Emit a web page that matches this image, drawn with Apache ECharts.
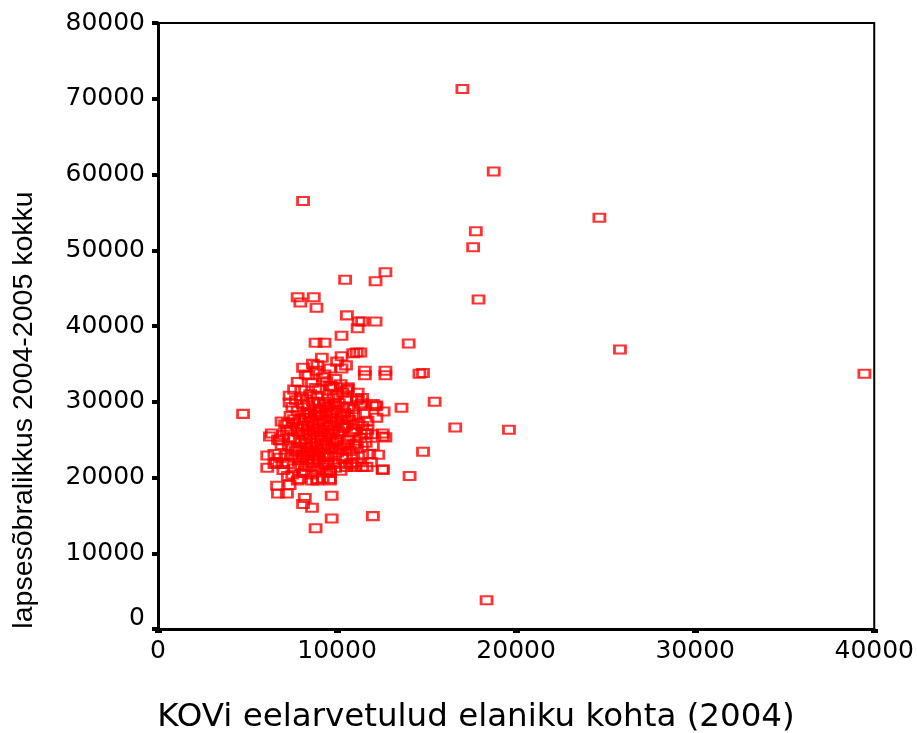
<!DOCTYPE html>
<html>
<head>
<meta charset="utf-8">
<script src="https://cdn.jsdelivr.net/npm/echarts@6/dist/echarts.min.js"></script>
<style>
  html, body { margin: 0; padding: 0; background: #fff; }
  #chart { width: 917px; height: 733px; }
</style>
</head>
<body>
<div id="chart"></div>
<script>
// [KOVi eelarvetulud elaniku kohta, lapsesõbralikkus kokku]
var outliers = [
  [17000, 71300], [18750, 60400], [8100, 56500], [24650, 54300], [17750, 52500],
  [17600, 50400], [17900, 43500], [25800, 36900], [39450, 33700], [16600, 26600],
  [19600, 26300], [18350, 3800], [4750, 28400], [15450, 30000], [14050, 20200],
  [14800, 23400], [14600, 33700], [14800, 33800], [14000, 37700], [13600, 29200]
];

var upperPoints = [
  [12700, 47100], [12150, 45900], [10450, 46100], [10550, 41400], [11200, 40600],
  [11400, 40600], [12150, 40600], [11150, 39700], [10250, 38700], [10250, 36000],
  [10500, 34800], [10900, 36400], [11300, 36500], [10250, 34400], [11550, 34100],
  [11550, 33500], [12700, 34100], [12700, 33500], [7800, 43800], [7950, 43100],
  [8700, 43800], [8850, 42400], [8800, 37800], [9300, 37800], [9150, 35800],
  [11100, 36500], [8650, 35000], [8900, 34800], [8100, 34500], [8250, 33600],
  [8850, 34100], [9200, 33200], [8600, 32500], [9300, 33600], [9900, 33000],
  [10000, 35300], [9600, 34400], [8400, 33500], [7800, 32600]
];

var edgePoints = [
  [12150, 29400], [11700, 27500], [12550, 25800], [12700, 25300], [11650, 25800],
  [7350, 30800], [8000, 31500], [9700, 32000], [10550, 31500], [11150, 31200],
  [12000, 29700], [7350, 29900], [9600, 32100], [11400, 30500], [6350, 25800],
  [6800, 24900], [7250, 27200], [11100, 24500], [6100, 22900], [6500, 23100],
  [6100, 21300], [6500, 21800], [6950, 21800], [7500, 22900], [6650, 18900],
  [7350, 19000], [6700, 17900], [7200, 17900], [8200, 17300], [8100, 16500],
  [8600, 16000], [9700, 17600], [9700, 14600], [8800, 13300], [12000, 14900],
  [11400, 21400], [11000, 21400], [10500, 21400], [9600, 20600], [9600, 19600],
  [8600, 19600], [8900, 19600], [8100, 20600], [12550, 21000], [10200, 32300],
  [10600, 31900], [10600, 31700], [11150, 30400], [11400, 29800], [12200, 29500],
  [10900, 27000], [10900, 26100], [11550, 25800], [11950, 25700], [12550, 25400],
  [10950, 24300], [11150, 22000], [10850, 21700], [12550, 21100], [11650, 21400],
  [6250, 25400], [6700, 25000], [7250, 21800], [7250, 20200], [7800, 19600],
  [9600, 19800], [8900, 19800]
];

var corePoints = [
  [7100, 27000], [7400, 26300], [7600, 25100], [7300, 24200], [7700, 23500],
  [7200, 23000], [7900, 22300], [7600, 21200], [7400, 28100], [7800, 28800],
  [7900, 27600], [8000, 26400], [8100, 25600], [8000, 24700], [8200, 23900],
  [8100, 23000], [8300, 22200], [8000, 21500], [8200, 20900], [8400, 29500],
  [8300, 30300], [8500, 28400], [8600, 27500], [8400, 26800], [8700, 26000],
  [8500, 25200], [8800, 24500], [8600, 23600], [8400, 22800], [8700, 21900],
  [8900, 21100], [8600, 20400], [8900, 30800], [9000, 29900], [9100, 29000],
  [8900, 28200], [9200, 27300], [9000, 26500], [9300, 25700], [9100, 24900],
  [8900, 24000], [9200, 23200], [9000, 22400], [9300, 21600], [9400, 20800],
  [9500, 30400], [9600, 29400], [9400, 28600], [9700, 27800], [9500, 26900],
  [9800, 26200], [9600, 25300], [9400, 24400], [9700, 23700], [9500, 22800],
  [9800, 22000], [9900, 21300], [10000, 30900], [10100, 29800], [9900, 28900],
  [10200, 28100], [10000, 27300], [10300, 26500], [10100, 25700], [9900, 24900],
  [10200, 24100], [10000, 23300], [10300, 22500], [10100, 21800], [10500, 30200],
  [10600, 29300], [10400, 28500], [10700, 27600], [10500, 26700], [10800, 25900],
  [10600, 25000], [10400, 24300], [10700, 23500], [10500, 22700], [10900, 23000],
  [11000, 28300], [11200, 27100], [11000, 26400], [11300, 25200], [11100, 23800],
  [11400, 22900], [11600, 24600], [11800, 23100], [7000, 25600], [6900, 24300],
  [6800, 22600], [7500, 20400], [7900, 19800], [8400, 21400], [8800, 22900],
  [9200, 19900], [9600, 21000], [10200, 20900], [10800, 21900], [8200, 27900],
  [8800, 29100], [9300, 30000], [9800, 30500], [10300, 31200], [8500, 31000],
  [7700, 30200], [7500, 29300], [8100, 29700], [9000, 31600], [9800, 31800],
  [10900, 29000], [11300, 29600], [11500, 28400], [7300, 25300], [7800, 24000],
  [8300, 24400], [8900, 25600], [9500, 24000], [10000, 25000], [10600, 24500],
  [9100, 26000], [9700, 25800], [8500, 23300], [9300, 22700], [9900, 23900],
  [10400, 27000], [9400, 27700], [8700, 27000], [8100, 26900], [7600, 27700],
  [6900, 27400], [7200, 26100], [8300, 28600], [9000, 28600], [9900, 27500],
  [10600, 28000], [11100, 30200], [11700, 26300], [12000, 24200], [12300, 23000],
  [11900, 22000], [11400, 26800], [12200, 27900], [12600, 28700], [7000, 21000],
  [6600, 22000], [8800, 31800], [7600, 31600], [9400, 32700]
];

var densePoints = [
  [8250, 25000], [8550, 24100], [8750, 23200], [9050, 23700], [9250, 24300],
  [8350, 26200], [8650, 26600], [8950, 27100], [9250, 26300], [9550, 25700],
  [8150, 28300], [8450, 27900], [8750, 28700], [9150, 28300], [9450, 29200],
  [7850, 26000], [7750, 26700], [8050, 22700], [8350, 23500], [8650, 22400],
  [8950, 22700], [9150, 21300], [9450, 21900], [9750, 24600], [10050, 26100],
  [10250, 27700], [9650, 28500], [9350, 29700], [8650, 30000], [8050, 30700],
  [7650, 22600], [7450, 23800], [7550, 27300], [8850, 26300], [9650, 27000],
  [10150, 23700], [10350, 29400], [9850, 29700], [8450, 25700], [9150, 25300]
];

var xName = 'KOVi eelarvetulud elaniku kohta (2004)';
var yName = 'lapsesõbralikkus 2004-2005 kokku';

var allPoints = outliers.concat(upperPoints, edgePoints, corePoints, densePoints);

var chart = echarts.init(document.getElementById('chart'));

var tickFont = {
  color: '#000',
  fontFamily: 'DejaVu Sans',
  fontSize: 25
};

chart.setOption({
  animation: false,
  grid: {
    left: 158,
    right: 42,
    top: 23,
    bottom: 104,
    show: true,
    borderColor: '#000',
    borderWidth: 2
  },
  xAxis: {
    type: 'value',
    min: 0,
    max: 40000,
    interval: 10000,
    splitLine: { show: false },
    axisLine: { show: true, lineStyle: { color: '#000', width: 3 } },
    axisTick: { show: true, length: 4, lineStyle: { color: '#000', width: 7 } },
    axisLabel: Object.assign({
      margin: 10,
      formatter: function (v) { return String(v); }
    }, tickFont)
  },
  yAxis: {
    type: 'value',
    min: 0,
    max: 80000,
    interval: 10000,
    splitLine: { show: false },
    axisLine: { show: true, lineStyle: { color: '#000', width: 3 } },
    axisTick: { show: true, length: 6, lineStyle: { color: '#000', width: 4 } },
    axisLabel: Object.assign({
      margin: 13,
      formatter: function (v) { return v === 0 ? '{z|0}' : String(v); },
      rich: { z: { fontFamily: 'DejaVu Sans', fontSize: 25, color: '#000', padding: [0, 0, 22, 0] } }
    }, tickFont)
  },
  graphic: [
    {
      type: 'text',
      x: 476,
      y: 718,
      style: {
        text: xName,
        fill: '#000',
        font: '32.5px "DejaVu Sans"',
        align: 'center',
        verticalAlign: 'middle'
      }
    },
    {
      type: 'text',
      x: 24,
      y: 410,
      rotation: Math.PI / 2,
      style: {
        text: yName,
        fill: '#000',
        font: '28.5px "Liberation Sans"',
        align: 'center',
        verticalAlign: 'middle'
      }
    }
  ],
  series: [
    {
      type: 'scatter',
      data: allPoints,
      symbol: 'rect',
      symbolSize: [11, 8],
      itemStyle: {
        color: 'rgba(0,0,0,0)',
        borderColor: '#ff0000',
        borderWidth: 2.4
      },
      emphasis: { disabled: true }
    }
  ]
});
</script>
</body>
</html>
